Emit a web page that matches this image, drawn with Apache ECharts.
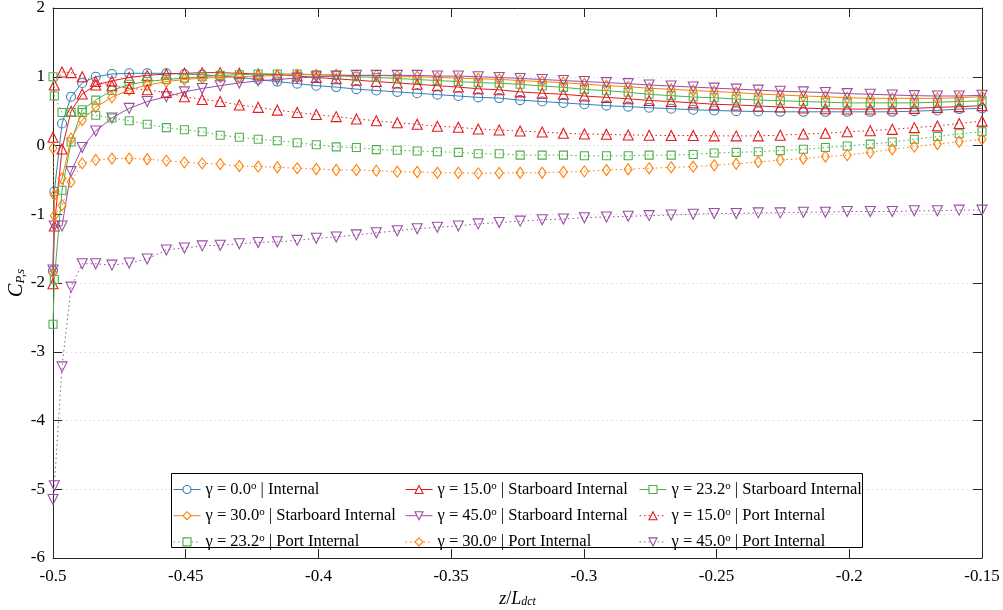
<!DOCTYPE html>
<html>
<head>
<meta charset="utf-8">
<script src="https://cdn.jsdelivr.net/npm/echarts@6/dist/echarts.min.js"></script>
<style>
html,body{margin:0;padding:0;background:#fff;}
#chart{width:1003px;height:610px;}
</style>
</head>
<body>
<div id="chart"></div>
<script>
// x positions (z/L_dct)
const zPos = [-0.5, -0.4995, -0.4966, -0.4932, -0.4890, -0.4839, -0.4778, -0.4713, -0.4645, -0.4573,
  -0.4505, -0.4438, -0.4370, -0.4298, -0.4227, -0.4155, -0.4080, -0.4008, -0.3933, -0.3857,
  -0.3782, -0.3703, -0.3628, -0.3552, -0.3473, -0.3398, -0.3319, -0.3240, -0.3157, -0.3077,
  -0.2998, -0.2915, -0.2833, -0.2754, -0.2671, -0.2588, -0.2509, -0.2426, -0.2343, -0.2260,
  -0.2173, -0.2090, -0.2008, -0.1921, -0.1838, -0.1755, -0.1668, -0.1586, -0.15];

const internal00 = [-1.82, -0.67, 0.32, 0.71, 0.91, 1.00, 1.04, 1.05, 1.05, 1.05,
  1.04, 1.03, 1.01, 0.99, 0.96, 0.93, 0.90, 0.87, 0.85, 0.82,
  0.80, 0.78, 0.76, 0.74, 0.72, 0.70, 0.69, 0.66, 0.64, 0.62,
  0.60, 0.58, 0.565, 0.55, 0.535, 0.52, 0.51, 0.50, 0.495, 0.49,
  0.49, 0.49, 0.49, 0.49, 0.49, 0.50, 0.51, 0.53, 0.54];

const starboard15 = [-2.01, -1.17, -0.05, 0.50, 0.75, 0.88, 0.94, 0.99, 1.02, 1.04,
  1.05, 1.06, 1.06, 1.05, 1.04, 1.03, 1.01, 0.99, 0.97, 0.95,
  0.93, 0.91, 0.89, 0.87, 0.85, 0.825, 0.81, 0.78, 0.76, 0.745,
  0.72, 0.70, 0.68, 0.655, 0.64, 0.62, 0.60, 0.59, 0.575, 0.56,
  0.545, 0.535, 0.53, 0.53, 0.535, 0.54, 0.555, 0.565, 0.58];

const starboard232 = [-2.6, -1.95, -0.65, 0.05, 0.52, 0.66, 0.80, 0.89, 0.93, 0.96,
  0.98, 1.00, 1.02, 1.03, 1.04, 1.04, 1.04, 1.03, 1.02, 1.00,
  0.99, 0.975, 0.96, 0.945, 0.93, 0.915, 0.905, 0.89, 0.865, 0.846,
  0.817, 0.797, 0.774, 0.745, 0.725, 0.705, 0.695, 0.676, 0.662, 0.652,
  0.64, 0.63, 0.62, 0.62, 0.62, 0.62, 0.63, 0.64, 0.65];

const starboard30 = [-1.85, -0.72, -0.48, 0.10, 0.37, 0.56, 0.70, 0.81, 0.88, 0.93,
  0.96, 0.98, 0.99, 1.00, 1.01, 1.02, 1.03, 1.03, 1.03, 1.02,
  1.02, 1.01, 1.00, 0.99, 0.98, 0.97, 0.963, 0.943, 0.93, 0.913,
  0.895, 0.87, 0.856, 0.832, 0.818, 0.80, 0.785, 0.77, 0.75, 0.735,
  0.72, 0.71, 0.695, 0.686, 0.686, 0.686, 0.686, 0.695, 0.71];

const starboard45 = [-1.81, -1.17, -1.17, -0.38, -0.03, 0.21, 0.40, 0.54, 0.64, 0.71,
  0.78, 0.83, 0.87, 0.91, 0.94, 0.96, 0.98, 1.00, 1.01, 1.02,
  1.02, 1.02, 1.02, 1.01, 1.01, 1.00, 0.99, 0.975, 0.96, 0.945,
  0.93, 0.915, 0.90, 0.88, 0.865, 0.85, 0.835, 0.82, 0.805, 0.79,
  0.78, 0.77, 0.755, 0.745, 0.735, 0.725, 0.72, 0.72, 0.73];

const port15 = [0.12, 0.88, 1.07, 1.06, 1.00, 0.93, 0.87, 0.83, 0.81, 0.77,
  0.71, 0.67, 0.64, 0.59, 0.555, 0.515, 0.48, 0.45, 0.42, 0.385,
  0.36, 0.33, 0.31, 0.28, 0.265, 0.24, 0.225, 0.21, 0.196, 0.178,
  0.167, 0.163, 0.153, 0.15, 0.145, 0.145, 0.14, 0.14, 0.14, 0.15,
  0.167, 0.178, 0.20, 0.215, 0.235, 0.26, 0.285, 0.32, 0.355];

const port232 = [1.00, 0.72, 0.48, 0.48, 0.48, 0.44, 0.40, 0.36, 0.31, 0.26,
  0.23, 0.20, 0.15, 0.12, 0.09, 0.07, 0.04, 0.01, -0.02, -0.03,
  -0.06, -0.07, -0.08, -0.09, -0.10, -0.12, -0.12, -0.14, -0.14, -0.14,
  -0.15, -0.15, -0.15, -0.14, -0.14, -0.13, -0.11, -0.10, -0.09, -0.075,
  -0.055, -0.03, -0.007, 0.02, 0.05, 0.09, 0.13, 0.17, 0.20];

const port30 = [-0.04, -1.02, -0.87, -0.53, -0.26, -0.21, -0.19, -0.19, -0.20, -0.22,
  -0.245, -0.26, -0.27, -0.298, -0.308, -0.317, -0.332, -0.342, -0.356, -0.356,
  -0.366, -0.381, -0.385, -0.396, -0.396, -0.405, -0.40, -0.396, -0.396, -0.385,
  -0.376, -0.356, -0.346, -0.332, -0.317, -0.308, -0.288, -0.265, -0.24, -0.21,
  -0.19, -0.16, -0.14, -0.10, -0.055, -0.017, 0.022, 0.055, 0.09];

const port45 = [-5.15, -4.95, -3.22, -2.06, -1.72, -1.72, -1.74, -1.71, -1.65, -1.52,
  -1.49, -1.46, -1.45, -1.43, -1.41, -1.40, -1.38, -1.35, -1.33, -1.30,
  -1.27, -1.24, -1.21, -1.19, -1.17, -1.14, -1.12, -1.10, -1.08, -1.07,
  -1.05, -1.04, -1.03, -1.02, -1.01, -1.00, -0.99, -0.99, -0.98, -0.98,
  -0.97, -0.97, -0.96, -0.96, -0.96, -0.95, -0.95, -0.94, -0.94];

const seriesNames = [
  'γ = 0.0° | Internal',
  'γ = 15.0° | Starboard Internal',
  'γ = 23.2° | Starboard Internal',
  'γ = 30.0° | Starboard Internal',
  'γ = 45.0° | Starboard Internal',
  'γ = 15.0° | Port Internal',
  'γ = 23.2° | Port Internal',
  'γ = 30.0° | Port Internal',
  'γ = 45.0° | Port Internal'
];
const xTicks = [-0.5, -0.45, -0.4, -0.35, -0.3, -0.25, -0.2, -0.15];
const yTicks = [2, 1, 0, -1, -2, -3, -4, -5, -6];

const C = {blue:'#377eb8', red:'#e41a1c', green:'#4daf4a', purple:'#984ea3', orange:'#ff7f00'};
const SERIF = '"Liberation Serif","DejaVu Serif",serif';

const defs = [
  {vals: internal00,   color: C.blue,   symbol: 'circle',   size: 9,  rot: 0,   dash: 'solid'},
  {vals: starboard15,  color: C.red,    symbol: 'triangle', size: 10, rot: 0,   dash: 'solid'},
  {vals: starboard232, color: C.green,  symbol: 'rect',     size: 8,  rot: 0,   dash: 'solid'},
  {vals: starboard30,  color: C.orange, symbol: 'diamond',  size: [8, 11], rot: 0, dash: 'solid'},
  {vals: starboard45,  color: C.purple, symbol: 'triangle', size: 10, rot: 180, dash: 'solid'},
  {vals: port15,       color: C.red,    symbol: 'triangle', size: 10, rot: 0,   dash: [1.5, 3]},
  {vals: port232,      color: C.green,  symbol: 'rect',     size: 8,  rot: 0,   dash: [1.5, 3]},
  {vals: port30,       color: C.orange, symbol: 'diamond',  size: [8, 11], rot: 0, dash: [1.5, 3]},
  {vals: port45,       color: C.purple, symbol: 'triangle', size: 10, rot: 180, dash: [1.5, 3]}
];

const series = defs.map((d, i) => ({
  name: seriesNames[i],
  type: 'line',
  xAxisIndex: 0, yAxisIndex: 0,
  data: zPos.map((x, k) => [x, d.vals[k]]),
  symbol: d.symbol,
  symbolSize: d.size,
  symbolRotate: d.rot,
  showAllSymbol: true,
  animation: false,
  lineStyle: {color: d.color, width: 1, type: d.dash},
  itemStyle: {color: 'rgba(255,255,255,0)', borderColor: d.color, borderWidth: 1.1},
  emphasis: {disabled: true},
  z: 2 + i * 0.1
}));

const legendFormatter = name => {
  const parts = name.split('°');
  return '{a|' + parts[0] + '}{b|o}{a|' + parts[1] + '}';
};
const legendText = {
  fontFamily: SERIF, fontSize: 16.5, color: '#000',
  rich: {
    a: {fontFamily: SERIF, fontSize: 16.5, color: '#000', lineHeight: 18},
    b: {fontFamily: SERIF, fontSize: 11, color: '#000', lineHeight: 18, verticalAlign: 'top', padding: [0, 0, 9, 0]}
  }
};
const mkLegend = (left, names) => ({
  orient: 'vertical', left: left, top: 480.5, itemGap: 6.2,
  itemWidth: 27, itemHeight: 10, z: 60,
  data: names, formatter: legendFormatter, textStyle: legendText,
  itemStyle: {color: '#fff', borderWidth: 1.1},
  lineStyle: {width: 1},
  selectedMode: false, padding: 0
});

const axisCol = '#262626';
const option = {
  backgroundColor: '#fff',
  animation: false,
  grid: {left: 53, right: 21, top: 8, bottom: 52, containLabel: false, outerBoundsMode: 'none'},
  legend: [
    mkLegend(173, [seriesNames[0], seriesNames[3], seriesNames[6]]),
    mkLegend(405, [seriesNames[1], seriesNames[4], seriesNames[7]]),
    mkLegend(639, [seriesNames[2], seriesNames[5], seriesNames[8]])
  ],
  graphic: [{
    type: 'rect', left: 171, top: 473, z: 50,
    shape: {width: 691, height: 74},
    style: {fill: '#fff', stroke: '#000', lineWidth: 1}
  }],
  xAxis: [{
    type: 'value', min: xTicks[0], max: xTicks[xTicks.length - 1], interval: 0.05,
    position: 'bottom',
    name: '{i|z}{n|/}{i|L}{s|dct}', nameLocation: 'middle', nameGap: 28,
    nameTextStyle: {
      rich: {
        i: {fontFamily: SERIF, fontStyle: 'italic', fontSize: 18, color: '#000'},
        n: {fontFamily: SERIF, fontSize: 18, color: '#000'},
        s: {fontFamily: SERIF, fontStyle: 'italic', fontSize: 12, color: '#000', verticalAlign: 'bottom', padding: [6, 0, 0, 0]}
      }
    },
    axisLine: {show: true, onZero: false, lineStyle: {color: axisCol, width: 1}},
    axisTick: {show: true, inside: true, length: 9, lineStyle: {color: axisCol}},
    axisLabel: {fontFamily: SERIF, fontSize: 17, color: '#000', margin: 10,
      formatter: v => String(+v.toFixed(2))},
    splitLine: {show: false}
  }, {
    type: 'value', min: xTicks[0], max: xTicks[xTicks.length - 1], interval: 0.05,
    position: 'top',
    axisLine: {show: true, onZero: false, lineStyle: {color: axisCol, width: 1}},
    axisTick: {show: true, inside: true, length: 9, lineStyle: {color: axisCol}},
    axisLabel: {show: false}, splitLine: {show: false}
  }],
  yAxis: [{
    type: 'value', min: yTicks[yTicks.length - 1], max: yTicks[0], interval: 1,
    position: 'left',
    name: '{i|C}{s|P,s}', nameLocation: 'middle', nameGap: 26, nameRotate: 90,
    nameMoveOverlap: false,
    nameTextStyle: {
      rich: {
        i: {fontFamily: SERIF, fontStyle: 'italic', fontSize: 20, color: '#000'},
        s: {fontFamily: SERIF, fontStyle: 'italic', fontSize: 13, color: '#000', verticalAlign: 'bottom', padding: [7, 0, 0, 0]}
      }
    },
    axisLine: {show: true, onZero: false, lineStyle: {color: axisCol, width: 1}},
    axisTick: {show: true, inside: true, length: 9, lineStyle: {color: axisCol}},
    axisLabel: {fontFamily: SERIF, fontSize: 17, color: '#000', margin: 8},
    splitLine: {show: true, lineStyle: {color: '#d9d9d9', type: [1.5, 3], width: 1}}
  }, {
    type: 'value', min: yTicks[yTicks.length - 1], max: yTicks[0], interval: 1,
    position: 'right',
    axisLine: {show: true, onZero: false, lineStyle: {color: axisCol, width: 1}},
    axisTick: {show: true, inside: true, length: 9, lineStyle: {color: axisCol}},
    axisLabel: {show: false}, splitLine: {show: false}
  }],
  series: series
};

const chart = echarts.init(document.getElementById('chart'), null, {renderer: 'canvas'});
chart.setOption(option);
</script>
</body>
</html>
